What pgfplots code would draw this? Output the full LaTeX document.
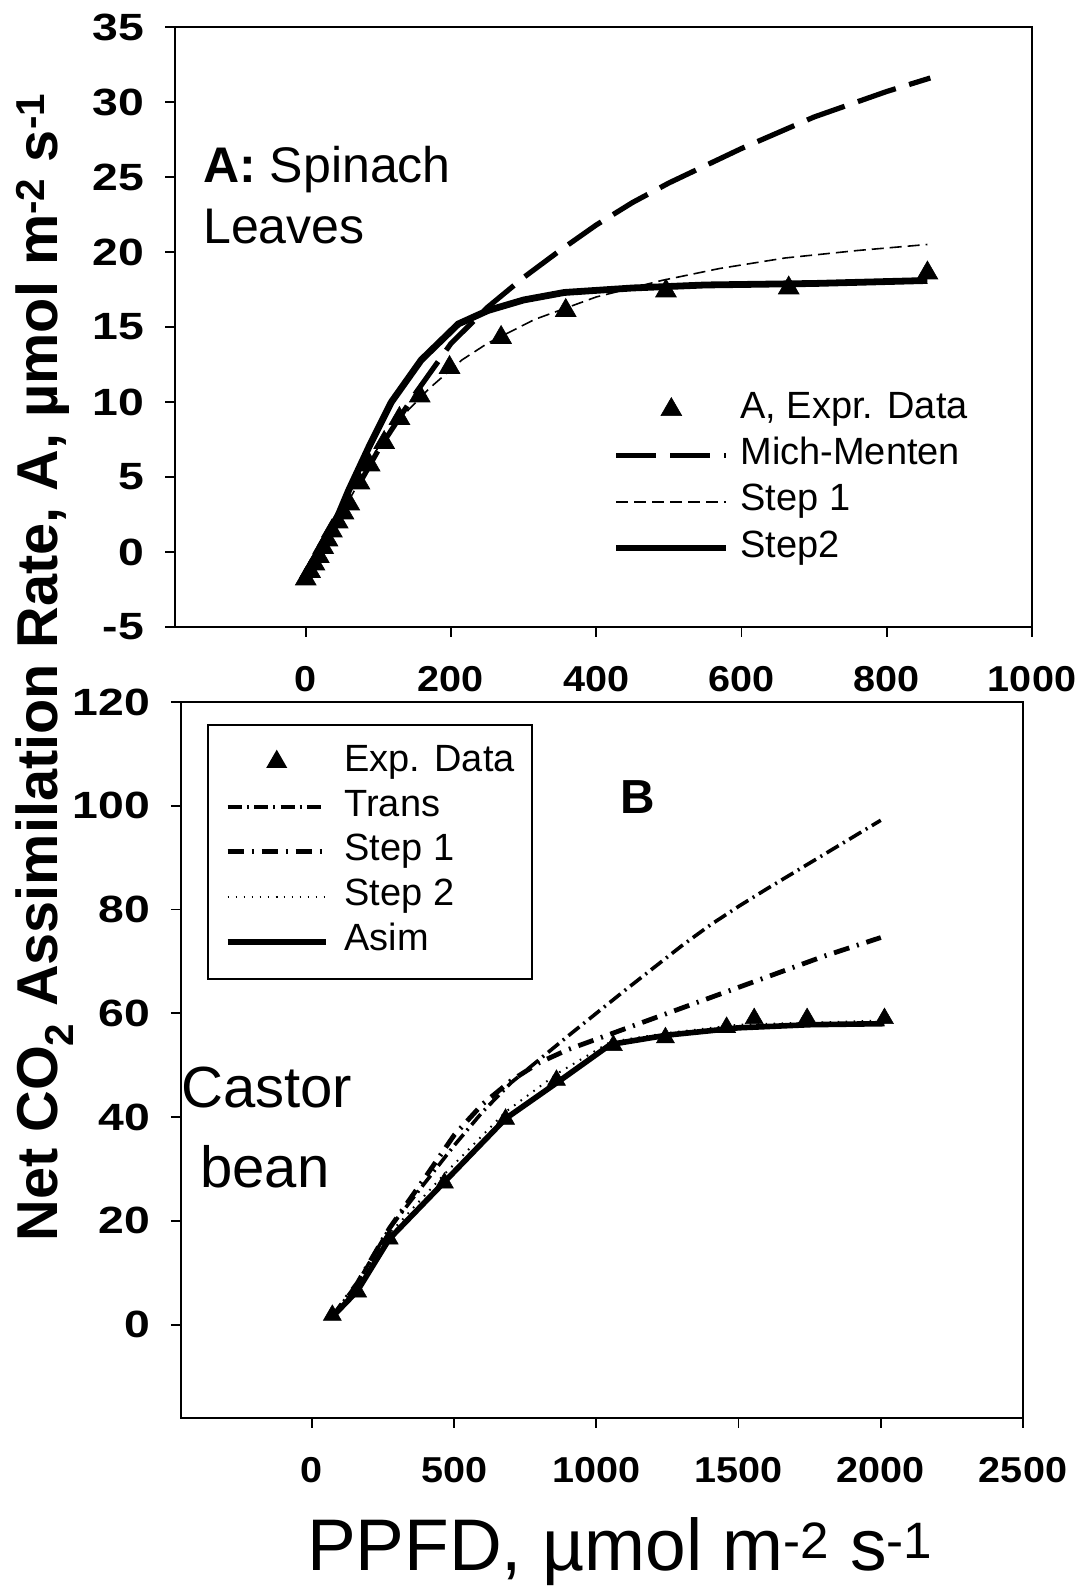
\documentclass[border=0pt]{standalone}
\usepackage{fontspec}
\setmainfont{Liberation Sans}
\newfontfamily\ytickfont[FakeStretch=1.22, UprightFont={* Bold}]{Liberation Sans}
\newfontfamily\xtickfont[FakeStretch=1.1, UprightFont={* Bold}]{Liberation Sans}
\usepackage{pgfplots}
\pgfplotsset{compat=1.18}

\pgfplotsset{
  panel/.style={
    scale only axis,
    anchor=south west,
    axis line style={line width=0.45mm, black},
    tick style={line width=0.45mm, black},
    tick align=outside,
    major tick length=2.5mm,
    tick pos=left,
    /pgf/number format/assume math mode=true,
    /pgf/number format/1000 sep={},
    xticklabel style={font=\fontsize{25.6pt}{30pt}\xtickfont},
    yticklabel style={font=\fontsize{27pt}{32pt}\ytickfont},
    xticklabel shift=6mm,
    yticklabel shift=4mm,
    legend cell align=left,
  },
}

\begin{document}
\begin{tikzpicture}
\useasboundingbox (0,0) rectangle (270.75mm,398.75mm);

% ---------------- Panel A ----------------
\begin{axis}[panel,
  at={(43.75mm,242mm)},
  width=214.25mm, height=150mm,
  xmin=-180, xmax=1000, ymin=-5, ymax=35,
  xtick={0,200,...,1000}, ytick={-5,0,...,35},
  legend image code/.code={\draw[mark repeat=2,mark phase=2,#1] plot coordinates {(0mm,0mm) (13.75mm,0mm) (27.5mm,0mm)};},
  legend style={draw=none, fill=none, inner sep=0pt, outer sep=0pt,
    at={(0.511,0.394)}, anchor=north west,
    font=\fontsize{27pt}{32pt}\selectfont,
    row sep=5.8pt, column sep=2.7mm,
    nodes={inner sep=0pt, text height=20pt, text depth=7pt}},
]
\addplot[only marks, mark=triangle*, mark size=3mm, black] coordinates {
(0,-1.8) (6,-1.3) (12,-0.8) (18,-0.3) (24,0.3) (30,0.8) (36,1.4) (44,2.0)
(52,2.6) (60,3.2) (74,4.6) (88,5.8) (108,7.3) (129,8.9) (157,10.4) (198,12.3)
(269,14.3) (358,16.1) (496,17.4) (665,17.6) (856,18.6)};
\addlegendentry{A, Expr. Data}
\addplot[black, line width=1.3mm, dash pattern=on 10mm off 3.5mm] coordinates {
(0,-1.9) (50,2.5) (100,6.8) (150,10.5) (200,13.9) (250,16.3) (300,18.3)
(350,20.1) (400,21.8) (450,23.3) (500,24.6) (600,26.9) (700,29.0) (800,30.7) (860,31.6)};
\addlegendentry{Mich-Menten}
\addplot[black, line width=0.4mm, dash pattern=on 3mm off 1.5mm] coordinates {
(0,-1.9) (50,2.6) (100,7.0) (130,8.9) (170,10.9) (215,12.8) (250,13.9)
(315,15.5) (400,17.0) (490,18.1) (570,18.9) (660,19.6) (760,20.1) (856,20.5)};
\addlegendentry{Step 1}
\addplot[black, line width=1.7mm] coordinates {
(0,-2.0) (26,0.3) (59,4.1) (87,7.0) (118,10.0) (159,12.8) (210,15.2)
(251,16.1) (300,16.8) (356,17.3) (450,17.6) (550,17.8) (700,17.9) (856,18.1)};
\addlegendentry{Step2}
\end{axis}

% ---------------- Panel B ----------------
\begin{axis}[panel,
  at={(45.25mm,44.25mm)},
  width=210.5mm, height=179mm,
  xmin=-460, xmax=2500, ymin=-18, ymax=120,
  xtick={0,500,...,2500}, ytick={0,20,...,120},
  legend image code/.code={\draw[mark repeat=2,mark phase=2,#1] plot coordinates {(0mm,0mm) (12.25mm,0mm) (24.5mm,0mm)};},
  legend style={draw=black, line width=0.45mm, fill=white,
    inner xsep=4.25mm, inner ysep=4.5mm, outer sep=0pt,
    at={(0.032,0.968)}, anchor=north west,
    font=\fontsize{27pt}{32pt}\selectfont,
    row sep=5pt, column sep=4mm,
    nodes={inner sep=0pt, text height=20pt, text depth=7pt}},
]
\addplot[only marks, mark=triangle*, mark size=2.6mm, black] coordinates {
(72,1.8) (161,6.3) (272,16.5) (466,27.3) (681,39.6) (860,47.1) (1060,53.8)
(1243,55.3) (1458,57.3) (1555,59.0) (1741,59.0) (2013,59.0)};
\addlegendentry{Exp. Data}
\addplot[black, line width=0.9mm, dash pattern=on 3.5mm off 1.3mm on 0.5mm off 1.3mm] coordinates {
(72,1.5) (160,8.0) (272,18.5) (400,27.5) (500,34.5) (600,41.0) (700,46.6)
(800,51.1) (900,55.6) (1000,60.0) (1100,64.4) (1200,68.7) (1300,73.0) (1400,77.0)
(1500,80.6) (1600,84.0) (1700,87.3) (1800,90.6) (1900,93.9) (2000,97.2)};
\addlegendentry{Trans}
\addplot[black, line width=1.2mm, dash pattern=on 4mm off 2mm on 0.5mm off 2mm] coordinates {
(72,1.5) (160,8.0) (272,18.5) (400,28.5) (500,36.5) (600,42.5) (700,47.0)
(800,50.5) (900,53.0) (1000,55.0) (1100,57.0) (1200,59.0) (1300,61.0) (1400,63.0)
(1500,65.0) (1600,67.0) (1700,69.0) (1800,71.0) (1900,72.8) (2000,74.6)};
\addlegendentry{Step 1}
\addplot[black, line width=0.5mm, dash pattern=on 0.4mm off 1.6mm] coordinates {
(72,1.5) (160,7.5) (272,17.5) (466,29.0) (681,41.0) (866,48.5) (1050,54.5)
(1250,56.2) (1500,57.8) (2013,58.6)};
\addlegendentry{Step 2}
\addplot[black, line width=1.4mm] coordinates {
(72,1.5) (160,6.5) (272,16.5) (466,27.5) (681,39.7) (866,46.8) (1050,54.0)
(1250,55.8) (1500,57.2) (1750,57.8) (2013,58.0)};
\addlegendentry{Asim}
\end{axis}

% ---------------- Texts ----------------
\node[anchor=base west, inner sep=0pt, font=\fontsize{35.6pt}{42pt}\selectfont]
  at (50.75mm,353mm) {\textbf{A:} Spinach};
\node[anchor=base west, inner sep=0pt, font=\fontsize{35.6pt}{42pt}\selectfont]
  at (50.75mm,337.75mm) {Leaves};
\node[anchor=base west, inner sep=0pt, font=\fontsize{34pt}{40pt}\selectfont\bfseries]
  at (155mm,195.25mm) {B};
\node[anchor=base west, inner sep=0pt, font=\fontsize{41.3pt}{48pt}\selectfont]
  at (45.25mm,121.75mm) {Castor};
\node[anchor=base west, inner sep=0pt, font=\fontsize{41.3pt}{48pt}\selectfont]
  at (50mm,101.75mm) {bean};
\node[rotate=90, anchor=base, inner sep=0pt, font=\fontsize{41pt}{48pt}\selectfont\bfseries]
  at (14.4mm,231.9mm) {Net CO\textsubscript{2} Assimilation Rate, A, µmol m\textsuperscript{-2} s\textsuperscript{-1}};
\node[anchor=base, inner sep=0pt, font=\fontsize{52pt}{60pt}\selectfont]
  at (155mm,6mm) {PPFD, µmol m\textsuperscript{-2} s\textsuperscript{-1}};
\end{tikzpicture}
\end{document}
